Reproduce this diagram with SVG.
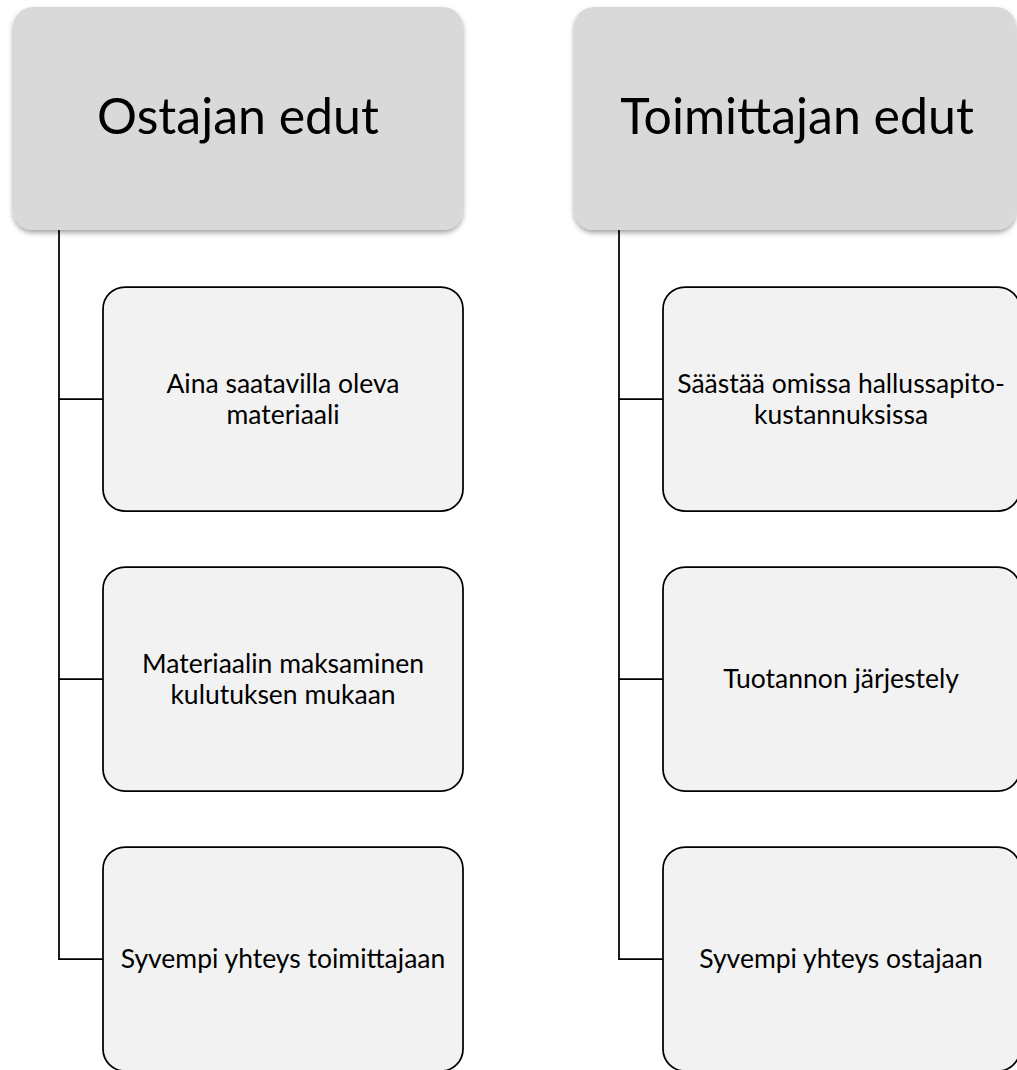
<svg xmlns="http://www.w3.org/2000/svg" width="1017" height="1070" viewBox="0 0 1017 1070">
  <defs>
    <filter id="headShadow" x="-10%" y="-10%" width="120%" height="130%">
      <feDropShadow dx="0" dy="3" stdDeviation="2.5" flood-color="#000" flood-opacity="0.35"/>
    </filter>
  </defs>
  <style>
    .head rect { fill: #d9d9d9; filter: url(#headShadow); }
    .head text { font-family: Lato, "Liberation Sans", sans-serif; font-size: 50px; fill: #000; text-anchor: middle; }
    .item rect { fill: #f2f2f2; stroke: #000; stroke-width: 1.75; }
    .item text { font-family: Lato, "Liberation Sans", sans-serif; font-size: 26.5px; fill: #000; text-anchor: middle; }
    .links path { fill: none; stroke: #000; stroke-width: 1.75; }
  </style>
  <rect width="1017" height="1070" fill="#fff"/>

  <!-- tree connectors -->
  <g id="connectors" class="links">
    <path d="M59 230 V959 H103 M59 399 H103 M59 679 H103"/>
    <path d="M619 230 V959 H663 M619 399 H663 M619 679 H663"/>
  </g>

  <!-- left column -->
  <g id="ostajan-edut" class="head">
    <rect x="13" y="7" width="450" height="223" rx="20"/>
    <text x="238" y="134">Ostajan edut</text>
  </g>
  <g id="aina-saatavilla" class="item">
    <rect x="103" y="287" width="360" height="224" rx="22"/>
    <text x="283" y="393">Aina saatavilla oleva</text>
    <text x="283" y="424">materiaali</text>
  </g>
  <g id="maksaminen" class="item">
    <rect x="103" y="567" width="360" height="224" rx="22"/>
    <text x="283" y="673">Materiaalin maksaminen</text>
    <text x="283" y="704">kulutuksen mukaan</text>
  </g>
  <g id="yhteys-toimittajaan" class="item">
    <rect x="103" y="847" width="360" height="224" rx="22"/>
    <text x="283" y="968">Syvempi yhteys toimittajaan</text>
  </g>

  <!-- right column -->
  <g id="toimittajan-edut" class="head">
    <rect x="574" y="7" width="442" height="223" rx="20"/>
    <text x="797" y="134">Toimittajan edut</text>
  </g>
  <g id="hallussapito" class="item">
    <rect x="663" y="287" width="357" height="224" rx="22"/>
    <text x="841" y="393">Säästää omissa hallussapito-</text>
    <text x="841" y="424">kustannuksissa</text>
  </g>
  <g id="tuotanto" class="item">
    <rect x="663" y="567" width="357" height="224" rx="22"/>
    <text x="841" y="688">Tuotannon järjestely</text>
  </g>
  <g id="yhteys-ostajaan" class="item">
    <rect x="663" y="847" width="357" height="224" rx="22"/>
    <text x="841" y="968">Syvempi yhteys ostajaan</text>
  </g>
</svg>
